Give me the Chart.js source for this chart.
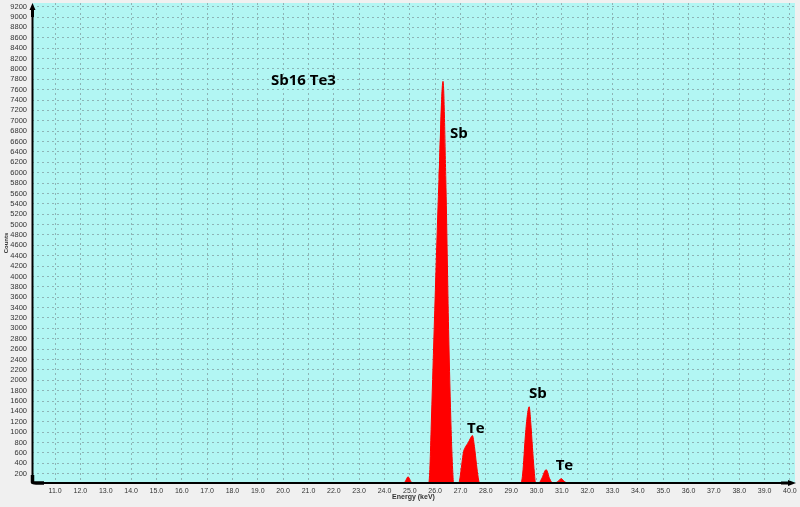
<!DOCTYPE html>
<html>
<head>
<meta charset="utf-8">
<script src="https://cdn.jsdelivr.net/npm/chart.js@4.4.1/dist/chart.umd.min.js"></script>
<style>
  html, body { margin: 0; padding: 0; background: #f0f0f0; }
  #wrap { width: 800px; height: 507px; }
</style>
</head>
<body>
<div id="wrap"><canvas id="c" width="800" height="507"></canvas></div>
<script>
// Energy (keV) and counts
const energyKeV = [
  10.09, 24.69, 24.82, 24.93, 25.04, 25.17,
  25.74, 25.79, 25.84, 25.96, 26.15, 26.31, 26.42, 26.53, 26.63, 26.69, 26.73,
  26.92, 26.98, 27.05, 27.12, 27.20, 27.30, 27.40, 27.47, 27.55, 27.63, 27.70, 27.76,
  29.37, 29.43, 29.48, 29.54, 29.62, 29.71, 29.77, 29.84, 29.90, 29.97,
  30.06, 30.20, 30.38, 30.52, 30.64,
  30.70, 30.85, 30.97, 31.10, 31.30, 40.20
];
const counts = [
  0, 0, 50, 140, 50, 0,
  0, 280, 1050, 2975, 5866, 7760, 5866, 2975, 1050, 280, 0,
  0, 120, 380, 620, 720, 790, 890, 933, 720, 380, 120, 0,
  0, 100, 350, 800, 1250, 1490, 1200, 700, 300, 0,
  0, 100, 277, 100, 20,
  20, 50, 104, 50, 0, 0
];
const xTicks = [11,12,13,14,15,16,17,18,19,20,21,22,23,24,25,26,27,28,29,30,31,32,33,34,35,36,37,38,39,40];
const yTicks = [200,400,600,800,1000,1200,1400,1600,1800,2000,2200,2400,2600,2800,3000,3200,3400,3600,3800,4000,4200,4400,4600,4800,5000,5200,5400,5600,5800,6000,6200,6400,6600,6800,7000,7200,7400,7600,7800,8000,8200,8400,8600,8800,9000,9200];
const labelTexts = ['Sb16 Te3', 'Sb', 'Te', 'Sb', 'Te'];
const labelEnergy = [19.52, 26.585, 27.256, 29.70, 30.755];
const labelCounts = [7773, 6746, 1057, 1736, 355];

const points = energyKeV.map((e, i) => ({ x: e, y: counts[i] }));

const bgPlugin = {
  id: 'plotBg',
  beforeDraw(chart) {
    const { ctx, chartArea: a } = chart;
    ctx.save();
    ctx.fillStyle = '#b2f6f3';
    ctx.fillRect(a.left, a.top, a.right - a.left, a.bottom - a.top);
    ctx.restore();
  }
};

const axesPlugin = {
  id: 'axesArrows',
  afterDraw(chart) {
    const { ctx, chartArea: a } = chart;
    const xs = chart.scales.x, ys = chart.scales.y;
    ctx.save();
    ctx.strokeStyle = '#000';
    ctx.fillStyle = '#000';
    ctx.lineWidth = 2;
    ctx.beginPath();
    ctx.moveTo(a.left + 0.5, a.top + 6);
    ctx.lineTo(a.left + 0.5, a.bottom);
    ctx.lineTo(a.right - 6, a.bottom);
    ctx.stroke();
    // thick origin hook
    ctx.lineWidth = 3.5;
    ctx.beginPath();
    ctx.moveTo(a.left + 0.5, a.bottom - 8);
    ctx.lineTo(a.left + 0.5, a.bottom - 1);
    ctx.quadraticCurveTo(a.left + 1, a.bottom, a.left + 4, a.bottom);
    ctx.lineTo(a.left + 12, a.bottom);
    ctx.stroke();
    // y arrow
    ctx.lineWidth = 3;
    ctx.beginPath();
    ctx.moveTo(a.left + 0.5, a.top + 14);
    ctx.lineTo(a.left + 0.5, a.top + 5);
    ctx.stroke();
    ctx.beginPath();
    ctx.moveTo(a.left + 0.5, a.top);
    ctx.lineTo(a.left - 2.5, a.top + 7);
    ctx.lineTo(a.left + 3.5, a.top + 7);
    ctx.closePath();
    ctx.fill();
    // x arrow
    ctx.beginPath();
    ctx.moveTo(a.right - 14, a.bottom);
    ctx.lineTo(a.right - 5, a.bottom);
    ctx.stroke();
    ctx.beginPath();
    ctx.moveTo(a.right + 1, a.bottom);
    ctx.lineTo(a.right - 7, a.bottom - 3);
    ctx.lineTo(a.right - 7, a.bottom + 3);
    ctx.closePath();
    ctx.fill();
    // peak labels
    ctx.font = 'bold 15px "Open Sans", "Noto Sans", sans-serif';
    ctx.textAlign = 'left';
    ctx.textBaseline = 'middle';
    labelTexts.forEach((t, i) => {
      ctx.fillText(t, xs.getPixelForValue(labelEnergy[i]), ys.getPixelForValue(labelCounts[i]));
    });
    ctx.restore();
  }
};

new Chart(document.getElementById('c'), {
  type: 'line',
  data: {
    datasets: [{
      data: points,
      borderColor: '#ff0000',
      backgroundColor: '#ff0000',
      borderWidth: 1,
      fill: 'start',
      pointRadius: 0,
      cubicInterpolationMode: 'monotone'
    }]
  },
  options: {
    responsive: false,
    devicePixelRatio: 1,
    animation: false,
    layout: { padding: { top: 3, right: 5, left: 0, bottom: 0 } },
    plugins: { legend: { display: false }, tooltip: { enabled: false } },
    scales: {
      x: {
        type: 'linear',
        min: 10.09,
        max: 40.2,
        afterBuildTicks(s) { s.ticks = xTicks.map(v => ({ value: v })); },
        afterFit(s) { s.height = 24; s.paddingLeft = 0; s.paddingRight = 0; },
        ticks: {
          autoSkip: false,
          maxRotation: 0,
          padding: 4,
          color: '#333',
          font: { family: '"Liberation Sans", Arial, sans-serif', size: 7 },
          callback: v => Number(v).toFixed(1)
        },
        grid: { color: '#8db4b6', lineWidth: 1, drawTicks: false },
        border: { display: false, dash: [2, 3] },
        title: {
          display: true,
          text: 'Energy (keV)',
          color: '#333',
          font: { family: '"Liberation Sans", Arial, sans-serif', size: 7, weight: 'bold' },
          padding: { top: 0, bottom: 6 }
        }
      },
      y: {
        type: 'linear',
        min: 20,
        max: 9270,
        afterBuildTicks(s) { s.ticks = yTicks.map(v => ({ value: v })); },
        afterFit(s) { s.width = 32; s.paddingTop = 0; s.paddingBottom = 0; },
        ticks: {
          autoSkip: false,
          padding: 5,
          color: '#333',
          font: { family: '"Liberation Sans", Arial, sans-serif', size: 7.5 },
          callback: v => String(v)
        },
        grid: { color: '#8db4b6', lineWidth: 1, drawTicks: false },
        border: { display: false, dash: [2, 3] },
        title: {
          display: true,
          text: 'Counts',
          color: '#333',
          font: { family: '"Liberation Sans", Arial, sans-serif', size: 6, weight: 'bold' },
          padding: { top: 3, bottom: 0 }
        }
      }
    }
  },
  plugins: [bgPlugin, axesPlugin]
});
</script>
</body>
</html>
